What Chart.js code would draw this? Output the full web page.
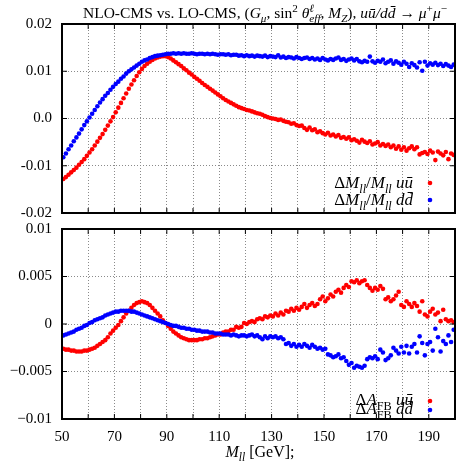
<!DOCTYPE html>
<html>
<head>
<meta charset="utf-8">
<script src="https://cdn.jsdelivr.net/npm/chart.js@4.4.0/dist/chart.umd.min.js"></script>
<style>
  html, body { margin: 0; padding: 0; background: #fff; }
  #wrap { position: relative; width: 459px; height: 469px; }
  canvas { position: absolute; left: 0; }
</style>
</head>
<body>
<div id="wrap">
  <canvas id="topChart" width="459" height="220" style="top:0"></canvas>
  <canvas id="botChart" width="459" height="249" style="top:220px"></canvas>
</div>
<script>
// bin centres of M_ll [GeV]
const massBins = [
  50.5, 51.5, 52.5, 53.5, 54.5, 55.5, 56.5, 57.5, 58.5, 59.5,
  60.5, 61.5, 62.5, 63.5, 64.5, 65.5, 66.5, 67.5, 68.5, 69.5,
  70.5, 71.5, 72.5, 73.5, 74.5, 75.5, 76.5, 77.5, 78.5, 79.5,
  80.5, 81.5, 82.5, 83.5, 84.5, 85.5, 86.5, 87.5, 88.5, 89.5,
  90.5, 91.5, 92.5, 93.5, 94.5, 95.5, 96.5, 97.5, 98.5, 99.5,
  100.5, 101.5, 102.5, 103.5, 104.5, 105.5, 106.5, 107.5, 108.5, 109.5,
  110.5, 111.5, 112.5, 113.5, 114.5, 115.5, 116.5, 117.5, 118.5, 119.5,
  120.5, 121.5, 122.5, 123.5, 124.5, 125.5, 126.5, 127.5, 128.5, 129.5,
  130.5, 131.5, 132.5, 133.5, 134.5, 135.5, 136.5, 137.5, 138.5, 139.5,
  140.5, 141.5, 142.5, 143.5, 144.5, 145.5, 146.5, 147.5, 148.5, 149.5,
  150.5, 151.5, 152.5, 153.5, 154.5, 155.5, 156.5, 157.5, 158.5, 159.5,
  160.5, 161.5, 162.5, 163.5, 164.5, 165.5, 166.5, 167.5, 168.5, 169.5,
  170.5, 171.5, 172.5, 173.5, 174.5, 175.5, 176.5, 177.5, 178.5, 179.5,
  180.5, 181.5, 182.5, 183.5, 184.5, 185.5, 186.5, 187.5, 188.5, 189.5,
  190.5, 191.5, 192.5, 193.5, 194.5, 195.5, 196.5, 197.5, 198.5, 199.5
];

// Delta M_ll / M_ll, u ubar
const dMuu = [
  -0.0128,-0.0124,-0.0119,-0.0114,-0.0109,-0.0104,-0.0098,-0.0092,-0.0086,-0.0079,
  -0.0072,-0.0065,-0.0057,-0.0049,-0.0041,-0.0033,-0.0024,-0.0015,-0.0006,0.0003,
  0.0013,0.0023,0.0033,0.0043,0.0053,0.0063,0.0072,0.0081,0.0090,0.0098,
  0.0105,0.0111,0.0116,0.0120,0.0124,0.0127,0.0129,0.0131,0.0132,0.0132,
  0.0130,0.0127,0.0123,0.0119,0.0115,0.0111,0.0106,0.0102,0.0097,0.0093,
  0.0088,0.0084,0.0080,0.0075,0.0071,0.0067,0.0063,0.0059,0.0055,0.0051,
  0.0047,0.0043,0.0039,0.0036,0.0033,0.0030,0.0027,0.0024,0.0022,0.0020,
  0.0018,0.0017,0.0015,0.0013,0.0011,0.0010,0.0008,0.0005,0.0003,0.0001,
  0.0000,-0.0001,-0.0003,-0.0002,-0.0005,-0.0007,-0.0008,-0.0011,-0.0010,-0.0014,
  -0.0016,-0.0015,-0.0020,-0.0024,-0.0019,-0.0025,-0.0023,-0.0029,-0.0027,-0.0031,
  -0.0034,-0.0030,-0.0036,-0.0034,-0.0038,-0.0035,-0.0041,-0.0039,-0.0043,-0.0040,
  -0.0046,-0.0044,-0.0047,-0.0051,-0.0045,-0.0049,-0.0052,-0.0048,-0.0055,-0.0053,
  -0.0050,-0.0057,-0.0054,-0.0058,-0.0055,-0.0061,-0.0057,-0.0064,-0.0059,-0.0066,
  -0.0061,-0.0068,-0.0063,-0.0059,-0.0065,-0.0061,-0.0076,-0.0073,-0.0071,-0.0075,
  -0.0068,-0.0072,-0.0088,-0.0070,-0.0074,-0.0078,-0.0071,-0.0086,-0.0074,-0.0077
];

// Delta M_ll / M_ll, d dbar
const dMdd = [
  -0.0082,-0.0074,-0.0065,-0.0057,-0.0048,-0.0040,-0.0032,-0.0023,-0.0014,-0.0006,
  0.0002,0.0010,0.0018,0.0026,0.0034,0.0041,0.0048,0.0054,0.0061,0.0067,
  0.0073,0.0078,0.0084,0.0089,0.0095,0.0100,0.0104,0.0108,0.0112,0.0116,
  0.0120,0.0123,0.0125,0.0128,0.0130,0.0132,0.0133,0.0134,0.0135,0.0136,
  0.0137,0.0137,0.0138,0.0137,0.0138,0.0137,0.0138,0.0137,0.0137,0.0138,
  0.0137,0.0136,0.0137,0.0137,0.0136,0.0137,0.0136,0.0137,0.0136,0.0135,
  0.0136,0.0136,0.0135,0.0136,0.0134,0.0135,0.0135,0.0133,0.0134,0.0132,
  0.0134,0.0132,0.0133,0.0131,0.0133,0.0132,0.0131,0.0133,0.0130,0.0132,
  0.0131,0.0130,0.0134,0.0129,0.0131,0.0128,0.0130,0.0129,0.0127,0.0130,
  0.0128,0.0126,0.0128,0.0129,0.0126,0.0128,0.0125,0.0127,0.0124,0.0128,
  0.0125,0.0123,0.0126,0.0124,0.0127,0.0129,0.0124,0.0126,0.0122,0.0125,
  0.0127,0.0123,0.0126,0.0121,0.0119,0.0122,0.0120,0.0131,0.0121,0.0118,
  0.0122,0.0120,0.0125,0.0117,0.0120,0.0123,0.0116,0.0121,0.0118,0.0114,
  0.0120,0.0116,0.0109,0.0117,0.0113,0.0108,0.0119,0.0101,0.0120,0.0112,
  0.0117,0.0114,0.0118,0.0113,0.0116,0.0111,0.0115,0.0112,0.0109,0.0114
];

// Delta A_FB, u ubar
const dAuu = [
  -0.0026,-0.0027,-0.0027,-0.0028,-0.0028,-0.0029,-0.0029,-0.0029,-0.0028,-0.0028,
  -0.0027,-0.0026,-0.0025,-0.0023,-0.0021,-0.0019,-0.0017,-0.0014,-0.0010,-0.0007,
  -0.0004,-0.0001,0.0003,0.0007,0.0011,0.0014,0.0017,0.0020,0.0022,0.0023,
  0.0024,0.0023,0.0022,0.0020,0.0017,0.0014,0.0011,0.0008,0.0004,0.0001,
  -0.0002,-0.0005,-0.0008,-0.0010,-0.0012,-0.0014,-0.0015,-0.0016,-0.0017,-0.0017,
  -0.0017,-0.0017,-0.0016,-0.0016,-0.0015,-0.0015,-0.0014,-0.0013,-0.0012,-0.0011,
  -0.0011,-0.0009,-0.0008,-0.0008,-0.0006,-0.0006,-0.0003,-0.0004,-0.0003,0.0001,
  0.0000,0.0002,0.0003,0.0002,0.0005,0.0006,0.0005,0.0008,0.0007,0.0009,
  0.0008,0.0011,0.0009,0.0012,0.0010,0.0014,0.0013,0.0016,0.0014,0.0017,
  0.0015,0.0018,0.0021,0.0017,0.0020,0.0022,0.0019,0.0021,0.0026,0.0029,
  0.0024,0.0027,0.0031,0.0029,0.0034,0.0036,0.0033,0.0038,0.0041,0.0039,
  0.0045,0.0044,0.0046,0.0043,0.0045,0.0046,0.0041,0.0038,0.0035,0.0038,
  0.0036,0.0040,0.0037,0.0026,0.0028,0.0024,0.0026,0.0030,0.0034,0.0020,
  0.0018,0.0024,0.0021,0.0018,0.0022,0.0019,0.0013,0.0024,0.0010,0.0008,
  0.0013,0.0016,0.0010,0.0012,0.0003,0.0015,0.0005,0.0003,0.0004,0.0002
];

// Delta A_FB, d dbar
const dAdd = [
  -0.0012,-0.0011,-0.0010,-0.0009,-0.0008,-0.0006,-0.0005,-0.0004,-0.0002,-0.0001,
  0.0001,0.0002,0.0004,0.0005,0.0006,0.0007,0.0009,0.0010,0.0011,0.0012,
  0.0013,0.0013,0.0014,0.0014,0.0014,0.0014,0.0013,0.0013,0.0012,0.0011,
  0.0010,0.0009,0.0008,0.0007,0.0006,0.0005,0.0004,0.0003,0.0002,0.0001,
  0.0000,-0.0001,-0.0002,-0.0002,-0.0003,-0.0004,-0.0004,-0.0005,-0.0005,-0.0006,
  -0.0006,-0.0007,-0.0007,-0.0008,-0.0008,-0.0008,-0.0009,-0.0009,-0.0010,-0.0010,
  -0.0010,-0.0011,-0.0011,-0.0011,-0.0012,-0.0011,-0.0012,-0.0013,-0.0012,-0.0012,
  -0.0013,-0.0012,-0.0011,-0.0013,-0.0012,-0.0014,-0.0016,-0.0013,-0.0015,-0.0013,
  -0.0014,-0.0013,-0.0015,-0.0014,-0.0016,-0.0021,-0.0020,-0.0023,-0.0021,-0.0024,
  -0.0022,-0.0024,-0.0021,-0.0023,-0.0025,-0.0022,-0.0024,-0.0026,-0.0025,-0.0027,
  -0.0026,-0.0032,-0.0033,-0.0035,-0.0034,-0.0032,-0.0036,-0.0035,-0.0039,-0.0043,
  -0.0041,-0.0046,-0.0044,-0.0045,-0.0046,-0.0044,-0.0037,-0.0035,-0.0036,-0.0034,
  -0.0037,-0.0027,-0.0030,-0.0038,-0.0036,-0.0033,-0.0025,-0.0028,-0.0031,-0.0024,
  -0.0030,-0.0023,-0.0031,-0.0024,-0.0021,-0.0030,-0.0013,-0.0020,-0.0033,-0.0021,
  -0.0019,-0.0028,-0.0005,-0.0014,-0.0029,-0.0018,-0.0021,-0.0012,-0.0019,-0.0006
];

const xTickLabels = ['50', '70', '90', '110', '130', '150', '170', '190'];
const topYLabels = ['-0.02', '-0.01', '0.0', '0.01', '0.02'];
const botYLabels = ['\u22120.01', '\u22120.005', '0', '0.005', '0.01'];

const SERIF = '"Liberation Serif", "DejaVu Serif", serif';
const RED = '#ff0000';
const BLUE = '#0000ff';

Chart.defaults.font.family = SERIF;
Chart.defaults.color = '#000';

function points(ys) {
  return massBins.map((m, i) => ({ x: m, y: ys[i] }));
}

// little rich-text helper for sub/superscripts
function drawRich(ctx, segs, x, y, size, align) {
  const fontOf = s => (s.i ? 'italic ' : '') + ((s.sub || s.sup) ? size * 0.72 : size) + 'px ' + SERIF;
  let w = 0;
  segs.forEach(s => {
    ctx.font = fontOf(s);
    s.w = ctx.measureText(s.t).width;
    if (!s.stay) w += s.w;
  });
  let cx = align === 'right' ? x - w : align === 'center' ? x - w / 2 : x;
  ctx.save();
  ctx.fillStyle = '#000';
  ctx.textAlign = 'left';
  ctx.textBaseline = 'alphabetic';
  segs.forEach(s => {
    ctx.font = fontOf(s);
    const dy = s.sub ? size * 0.28 : s.sup ? -size * 0.38 : 0;
    ctx.fillText(s.t, cx, y + dy);
    if (!s.stay) cx += s.w;
  });
  ctx.restore();
}

// frame and inward tick marks like gnuplot, then the extra texts
function framePlugin(drawTexts) {
  return {
    id: 'frame',
    afterDraw(chart) {
      const { ctx, chartArea: a, scales } = chart;
      ctx.save();
      ctx.strokeStyle = '#000';
      ctx.lineWidth = 1;
      ctx.beginPath();
      scales.x.ticks.forEach(t => {
        const px = scales.x.getPixelForValue(t.value);
        ctx.moveTo(px, a.bottom); ctx.lineTo(px, a.bottom - 5);
        ctx.moveTo(px, a.top); ctx.lineTo(px, a.top + 5);
      });
      scales.y.ticks.forEach(t => {
        const py = scales.y.getPixelForValue(t.value);
        ctx.moveTo(a.left, py); ctx.lineTo(a.left + 5, py);
        ctx.moveTo(a.right, py); ctx.lineTo(a.right - 5, py);
      });
      ctx.stroke();
      ctx.lineWidth = 2;
      ctx.strokeRect(a.left, a.top, a.right - a.left, a.bottom - a.top);
      ctx.restore();
      drawTexts(ctx);
    }
  };
}

function dot(ctx, x, y, c) {
  ctx.save();
  ctx.fillStyle = c;
  ctx.beginPath();
  ctx.arc(x, y, 2.3, 0, Math.PI * 2);
  ctx.fill();
  ctx.restore();
}

function noPad(s) {
  s.paddingTop = 0; s.paddingBottom = 0; s.paddingLeft = 0; s.paddingRight = 0;
}

function baseOptions(yMin, yMax, yStep, yLabels, showX, padTop, xHeight) {
  return {
    responsive: false,
    animation: false,
    layout: { padding: { left: 0, right: 2, top: padTop, bottom: 0 } },
    plugins: { legend: { display: false }, tooltip: { enabled: false } },
    scales: {
      x: {
        type: 'linear', min: 50, max: 200,
        ticks: {
          display: showX, stepSize: 10, padding: 9, maxRotation: 0, autoSkip: false,
          font: { size: 15 },
          callback: v => xTickLabels.includes(String(v)) ? String(v) : ''
        },
        grid: { color: '#8a8a8a', lineWidth: 1, drawTicks: false },
        border: { display: false, dash: [1, 2] },
        afterFit: s => { s.height = xHeight; noPad(s); }
      },
      y: {
        min: yMin, max: yMax,
        ticks: {
          stepSize: yStep, padding: 10, font: { size: 15 },
          callback: v => yLabels[Math.round((v - yMin) / yStep)]
        },
        grid: { color: '#8a8a8a', lineWidth: 1, drawTicks: false },
        border: { display: false, dash: [1, 2] },
        afterFit: s => { s.width = 62; noPad(s); }
      }
    }
  };
}

function dataset(ys, color, order) {
  return {
    data: points(ys), showLine: false, order: order,
    pointRadius: 2.3, pointBorderWidth: 0,
    pointBackgroundColor: color, backgroundColor: color
  };
}

function topTexts(ctx) {
  drawRich(ctx, [
    { t: 'NLO-CMS vs. LO-CMS, (' },
    { t: 'G', i: 1 }, { t: '\u03bc', i: 1, sub: 1 },
    { t: ', sin' }, { t: '2', sup: 1 }, { t: ' ' },
    { t: '\u03b8', i: 1 }, { t: '\u2113', i: 1, sup: 1, stay: 1 }, { t: 'eff', i: 1, sub: 1 },
    { t: ', ' }, { t: 'M', i: 1 }, { t: 'Z', i: 1, sub: 1 },
    { t: '), ' }, { t: 'u\u016b/dd\u0304', i: 1 },
    { t: ' \u2192 ' }, { t: '\u03bc', i: 1 }, { t: '+', sup: 1 }, { t: '\u03bc', i: 1 }, { t: '\u2212', sup: 1 }
  ], 265, 18, 15.5, 'center');
  const leg = q => [
    { t: '\u0394' }, { t: 'M', i: 1 }, { t: 'll', i: 1, sub: 1 },
    { t: '/' }, { t: 'M', i: 1 }, { t: 'll', i: 1, sub: 1 }, { t: ' ' + q, i: 1 }
  ];
  drawRich(ctx, leg('u\u016b'), 413, 188, 17, 'right');
  drawRich(ctx, leg('dd\u0304'), 413, 205, 17, 'right');
  dot(ctx, 430, 183, RED);
  dot(ctx, 430, 200, BLUE);
}

function botTexts(ctx) {
  const leg = q => [
    { t: '\u0394' }, { t: 'A', i: 1 }, { t: 'FB', sub: 1 }, { t: ' ' + q, i: 1 }
  ];
  drawRich(ctx, leg('u\u016b'), 413, 185, 17, 'right');
  drawRich(ctx, leg('dd\u0304'), 413, 194, 17, 'right');
  dot(ctx, 430, 181, RED);
  dot(ctx, 430, 190, BLUE);
  drawRich(ctx, [
    { t: 'M', i: 1 }, { t: 'll', i: 1, sub: 1 }, { t: ' [GeV];' }
  ], 260, 237, 16, 'center');
}

window.addEventListener('load', function () {
  window.topChart = new Chart(document.getElementById('topChart').getContext('2d'), {
    type: 'scatter',
    data: { datasets: [dataset(dMuu, RED, 1), dataset(dMdd, BLUE, 0)] },
    options: baseOptions(-0.02, 0.02, 0.01, topYLabels, false, 24, 7),
    plugins: [framePlugin(topTexts)]
  });

  window.botChart = new Chart(document.getElementById('botChart').getContext('2d'), {
    type: 'scatter',
    data: { datasets: [dataset(dAuu, RED, 1), dataset(dAdd, BLUE, 0)] },
    options: baseOptions(-0.01, 0.01, 0.005, botYLabels, true, 9, 50),
    plugins: [framePlugin(botTexts)]
  });
});
</script>
</body>
</html>
